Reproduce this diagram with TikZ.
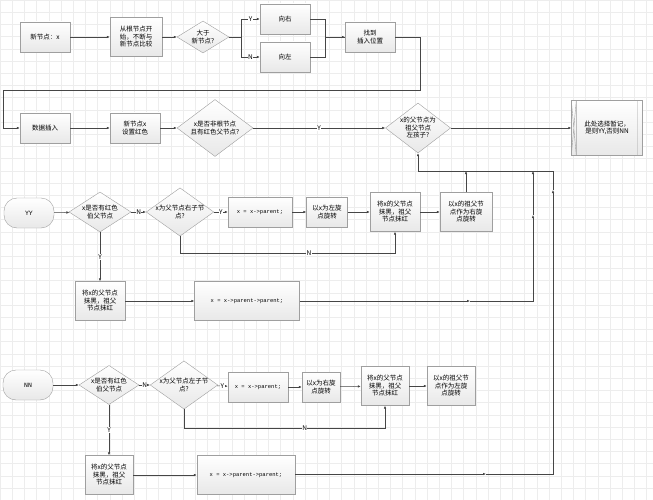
\documentclass[tikz,border=0pt]{standalone}
\usepackage{fontspec}
\setmainfont{Noto Sans CJK SC}
\newfontfamily\codefont{Liberation Mono}
\usetikzlibrary{shapes.geometric,arrows.meta}
\begin{document}
\begin{tikzpicture}[x=1pt,y=-1pt,
  base/.style={draw=gray!75,top color=white,bottom color=gray!18,font=\fontsize{6.5}{7.5}\selectfont,align=center,inner sep=1pt},
  box/.style={base,rectangle,minimum width=#1,minimum height=30},
  tall/.style={base,rectangle,minimum width=#1,minimum height=39},
  dia/.style={base,diamond,aspect=1.4,inner sep=0pt},
  term/.style={base,rounded corners=13,minimum width=50,minimum height=30},
  ln/.style={draw=gray!55!black,line width=0.5pt},
  arr/.style={ln,-{Latex[length=3pt,width=2.5pt]}},
  lab/.style={fill=white,inner sep=0.5pt,font=\fontsize{6.5}{7}\selectfont},
  code/.style={font=\codefont\fontsize{5.5}{6.5}\selectfont}]
\useasboundingbox (0,0) rectangle (653,500);
\fill[white] (0,0) rectangle (653,500);
\foreach \i in {0,...,54} {\draw[gray!14,line width=0.4pt] (\i*12.2,0) -- (\i*12.2,500);}
\foreach \j in {0,...,41} {\draw[gray!14,line width=0.4pt] (0,\j*12.2) -- (653,\j*12.2);}
% row 1
\node[box=50] (n1) at (45,37) {新节点：x};
\node[tall=52] (n2) at (136,37) {从根节点开\\始，不断与\\新节点比较};
\node[dia,minimum width=52,minimum height=32] (d1) at (203,37) {大于\\新节点?};
\node[box=50] (r) at (285,19) {向右};
\node[box=50] (l) at (285,57) {向左};
\node[box=50] (f) at (370,37) {找到\\插入位置};
\draw[arr] (n1) -- (n2);
\draw[arr] (n2) -- (d1);
\draw[arr] (d1.east) -- ++(12,0) |- node[lab,pos=0.75]{Y} (r.west);
\draw[arr] (d1.east) -- ++(12,0) |- node[lab,pos=0.75]{N} (l.west);
\draw[ln] (r.east) -- ++(15,0) |- (f.west);
\draw[arr] (l.east) -- ++(15,0) |- (f.west);
% row 2
\node[box=50] (ins) at (45,128) {数据插入};
\node[box=50] (red) at (135,128) {新节点x\\设置红色};
\node[dia,minimum width=76,minimum height=57] (d2) at (215,128) {x是否非根节点\\且有红色父节点?};
\node[dia,minimum width=64,minimum height=50] (d3) at (418,128) {x的父节点为\\祖父节点\\左孩子?};
\node[base,minimum width=71,minimum height=55] (tmp) at (607,128) {此处选择暂记，\\是则YY,否则NN};
\draw[gray!75] ([xshift=5]tmp.north west) -- ([xshift=5]tmp.south west)
  (tmp.north west) -- ([xshift=5]tmp.south west) ([xshift=5]tmp.north west) -- (tmp.south west)
  ([xshift=-5]tmp.north east) -- ([xshift=-5]tmp.south east);
\coordinate (c1) at (420,37);
\coordinate (c2) at (3,90);
\draw[arr] (f.east) -- (c1) |- (c2) |- (ins.west);
\draw[arr] (ins) -- (red);
\draw[arr] (red) -- (d2);
\draw[arr] (d2) -- node[lab]{Y} (d3);
\draw[arr] (d3) -- (tmp);
% YY row
\node[term] (yy) at (29,213) {\codefont YY};
\node[dia,minimum width=62,minimum height=40] (y1) at (100,212) {x是否有红色\\伯父节点};
\node[dia,minimum width=64,minimum height=48] (y2) at (180,212) {x为父节点右子节\\点?};
\node[box=64,code] (y3) at (260,212) {x = x->parent;};
\node[box=41] (y4) at (327,212) {以x为左旋\\点旋转};
\node[tall=50] (y5) at (395,212) {将x的父节点\\抹黑，祖父\\节点抹红};
\node[tall=52] (y6) at (466,212) {以x的祖父节\\点作为右旋\\点旋转};
\node[tall=50] (y7) at (100,301) {将x的父节点\\抹黑，祖父\\节点抹红};
\node[tall=105,code] (y8) at (247,301) {x = x->parent->parent;};
\draw[arr] (yy) -- (y1);
\draw[arr] (y1) -- node[lab]{N} (y2);
\draw[arr] (y2) -- node[lab]{Y} (y3);
\draw[arr] (y3) -- (y4);
\draw[arr] (y4) -- (y5);
\draw[arr] (y5) -- (y6);
\draw[arr] (y2.south) -- ++(0,17) -| node[lab,pos=0.3]{N} (y5.south);
\draw[arr] (y1) -- node[lab]{Y} (y7);
\draw[arr] (y7) -- (y8);
% NN row
\node[term] (nn) at (28,385) {\codefont NN};
\node[dia,minimum width=60,minimum height=38] (m1) at (109,385) {x是否有红色\\伯父节点};
\node[dia,minimum width=60,minimum height=48] (m2) at (184,385) {x为父节点左子节\\点?};
\node[box=60,code] (m3) at (258,387) {x = x->parent;};
\node[box=38] (m4) at (321,387) {以x为右旋\\点旋转};
\node[tall=48] (m5) at (385,386) {将x的父节点\\抹黑，祖父\\节点抹红};
\node[tall=48] (m6) at (451,386) {以x的祖父节\\点作为左旋\\点旋转};
\node[tall=48] (m7) at (109,475) {将x的父节点\\抹黑，祖父\\节点抹红};
\node[tall=98,code] (m8) at (246,475) {x = x->parent->parent;};
\draw[arr] (nn) -- (m1);
\draw[arr] (m1) -- node[lab]{N} (m2);
\draw[arr] (m2) -- node[lab]{Y} (m3);
\draw[arr] (m3) -- (m4);
\draw[arr] (m4) -- (m5);
\draw[arr] (m5) -- (m6);
\draw[arr] (m2.south) -- ++(0,19) -| node[lab,pos=0.3]{N} (m5.south);
\draw[arr] (m1) -- node[lab]{Y} (m7);
\draw[arr] (m7) -- (m8);
% feedback to d3
\coordinate (fb) at (418,171);
\coordinate (j1) at (466,171);
\coordinate (j2) at (533,171);
\coordinate (j3) at (553,171);
\coordinate (a1) at (470,301);
\coordinate (a2) at (533,301);
\coordinate (b1) at (486,474);
\coordinate (b2) at (553,474);
\coordinate (b3) at (553,190);
\draw[arr] (y6.north) -- (j1);
\draw[arr] (y8.east |- a1) -- (a1);
\draw[arr] (a1) -- (a2) -- (533,215);
\draw[arr] (533,215) -- (j2);
\draw[arr] (m8.east |- b1) -- (b1);
\draw[arr] (b1) -- (b2) -- (b3);
\draw[ln] (b3) -- (j3) -- (fb);
\draw[arr] (fb) -- (d3.south);
\end{tikzpicture}
\end{document}
